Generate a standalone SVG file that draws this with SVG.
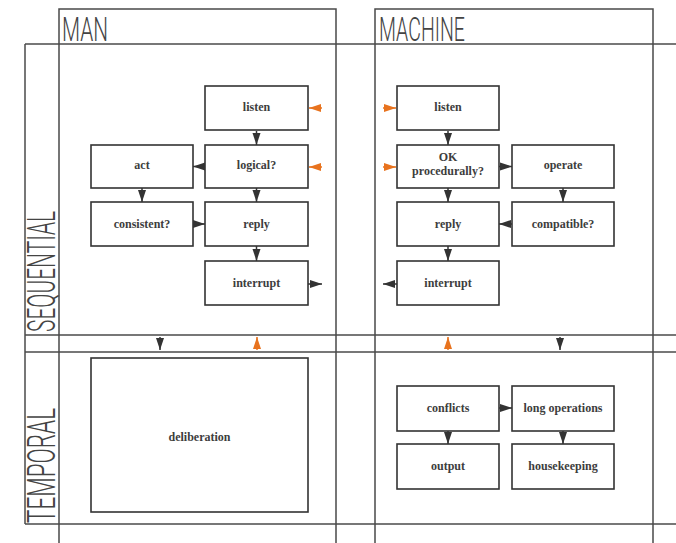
<svg xmlns="http://www.w3.org/2000/svg" width="676" height="543" viewBox="0 0 676 543">
  <style>
    .grid { stroke: #4a4a4a; stroke-width: 1.5; fill: none; }
    .box rect { fill: #ffffff; stroke: #333333; stroke-width: 1.6; }
    .box text { font-family: "Liberation Serif", "DejaVu Serif", serif; font-size: 12px; font-weight: bold; fill: #3d3d3d; text-anchor: middle; }
    .head { font-family: Roboto, "Open Sans", "DejaVu Sans", sans-serif; font-weight: 300; fill: #444444; }
    .edge { stroke: #333333; stroke-width: 1.5; fill: none; marker-end: url(#arrow); }
    .edge.hot { stroke: #e8731e; marker-end: url(#arrowHot); }
  </style>
  <defs>
    <marker id="arrow" markerUnits="userSpaceOnUse" markerWidth="12" markerHeight="9" refX="12" refY="4.5" orient="auto">
      <path d="M0,0.5 L12,4.5 L0,8.5 z" fill="#333333"/>
    </marker>
    <marker id="arrowHot" markerUnits="userSpaceOnUse" markerWidth="12" markerHeight="9" refX="12" refY="4.5" orient="auto">
      <path d="M0,0.5 L12,4.5 L0,8.5 z" fill="#e8731e"/>
    </marker>
  </defs>

  <rect width="676" height="543" fill="#ffffff"/>

  <!-- swimlane grid -->
  <g id="grid" class="grid">
    <!-- column frames -->
    <path d="M59,543 V9 H336 V543"/>
    <path d="M375,543 V9 H653 V543"/>
    <!-- row lines -->
    <line x1="25" y1="44" x2="676" y2="44"/>
    <line x1="25" y1="335" x2="676" y2="335"/>
    <line x1="25" y1="352" x2="676" y2="352"/>
    <line x1="25" y1="524" x2="676" y2="524"/>
    <line x1="25" y1="44" x2="25" y2="524"/>
  </g>

  <!-- lane titles -->
  <g id="lane-titles">
    <text class="head" x="62" y="41" font-size="34" textLength="46" lengthAdjust="spacingAndGlyphs">MAN</text>
    <text class="head" x="379" y="41" font-size="34" textLength="86" lengthAdjust="spacingAndGlyphs">MACHINE</text>
    <text class="head" transform="translate(55,332) rotate(-90)" font-size="38" textLength="121" lengthAdjust="spacingAndGlyphs">SEQUENTIAL</text>
    <text class="head" transform="translate(55,523) rotate(-90)" font-size="38" textLength="115" lengthAdjust="spacingAndGlyphs">TEMPORAL</text>
  </g>

  <!-- MAN / sequential -->
  <g id="man-listen" class="box"><rect x="205" y="86" width="103" height="44"/><text x="256.5" y="111">listen</text></g>
  <g id="man-logical" class="box"><rect x="205" y="145" width="103" height="43"/><text x="256.5" y="169">logical?</text></g>
  <g id="man-act" class="box"><rect x="91" y="145" width="102" height="43"/><text x="142" y="169">act</text></g>
  <g id="man-consistent" class="box"><rect x="91" y="202" width="102" height="44"/><text x="142" y="228">consistent?</text></g>
  <g id="man-reply" class="box"><rect x="205" y="202" width="103" height="44"/><text x="256.5" y="228">reply</text></g>
  <g id="man-interrupt" class="box"><rect x="205" y="261" width="103" height="44"/><text x="256.5" y="287">interrupt</text></g>

  <!-- MAN / temporal -->
  <g id="man-deliberation" class="box"><rect x="91" y="358" width="217" height="154"/><text x="199.5" y="441">deliberation</text></g>

  <!-- MACHINE / sequential -->
  <g id="machine-listen" class="box"><rect x="397" y="86" width="102" height="44"/><text x="448" y="111">listen</text></g>
  <g id="machine-ok" class="box"><rect x="397" y="145" width="102" height="43"/><text x="448" y="161">OK</text><text x="448" y="175">procedurally?</text></g>
  <g id="machine-operate" class="box"><rect x="512" y="145" width="102" height="43"/><text x="563" y="169">operate</text></g>
  <g id="machine-reply" class="box"><rect x="397" y="202" width="102" height="44"/><text x="448" y="228">reply</text></g>
  <g id="machine-compatible" class="box"><rect x="512" y="202" width="102" height="44"/><text x="563" y="228">compatible?</text></g>
  <g id="machine-interrupt" class="box"><rect x="397" y="261" width="102" height="44"/><text x="448" y="287">interrupt</text></g>

  <!-- MACHINE / temporal -->
  <g id="machine-conflicts" class="box"><rect x="397" y="386" width="102" height="45"/><text x="448" y="412">conflicts</text></g>
  <g id="machine-longops" class="box"><rect x="512" y="386" width="102" height="45"/><text x="563" y="412">long operations</text></g>
  <g id="machine-output" class="box"><rect x="397" y="444" width="102" height="45"/><text x="448" y="470">output</text></g>
  <g id="machine-housekeeping" class="box"><rect x="512" y="444" width="102" height="45"/><text x="563" y="470">housekeeping</text></g>

  <!-- connectors -->
  <g id="connectors">
    <!-- man -->
    <line class="edge" x1="256.5" y1="131" x2="256.5" y2="145"/>
    <line class="edge" x1="205" y1="166.5" x2="193" y2="166.5"/>
    <line class="edge" x1="142" y1="188" x2="142" y2="202"/>
    <line class="edge" x1="193" y1="224" x2="205" y2="224"/>
    <line class="edge" x1="256.5" y1="188" x2="256.5" y2="202"/>
    <line class="edge" x1="256.5" y1="246" x2="256.5" y2="261"/>
    <line class="edge" x1="308" y1="284" x2="322" y2="284"/>
    <line class="edge hot" x1="322" y1="108" x2="309" y2="108"/>
    <line class="edge hot" x1="322" y1="167" x2="309" y2="167"/>
    <!-- machine -->
    <line class="edge hot" x1="383" y1="108" x2="396" y2="108"/>
    <line class="edge hot" x1="383" y1="167" x2="396" y2="167"/>
    <line class="edge" x1="448" y1="131" x2="448" y2="145"/>
    <line class="edge" x1="499" y1="166.5" x2="512" y2="166.5"/>
    <line class="edge" x1="563" y1="188" x2="563" y2="202"/>
    <line class="edge" x1="512" y1="224" x2="499" y2="224"/>
    <line class="edge" x1="448" y1="188" x2="448" y2="202"/>
    <line class="edge" x1="448" y1="246" x2="448" y2="261"/>
    <line class="edge" x1="397" y1="284" x2="383" y2="284"/>
    <!-- between the rows -->
    <line class="edge" x1="160" y1="337" x2="160" y2="350"/>
    <line class="edge hot" x1="257" y1="350" x2="257" y2="337"/>
    <line class="edge hot" x1="448" y1="350" x2="448" y2="337"/>
    <line class="edge" x1="560" y1="337" x2="560" y2="350"/>
    <!-- machine temporal -->
    <line class="edge" x1="499" y1="408" x2="512" y2="408"/>
    <line class="edge" x1="448" y1="431" x2="448" y2="444"/>
    <line class="edge" x1="563" y1="431" x2="563" y2="444"/>
  </g>
</svg>
